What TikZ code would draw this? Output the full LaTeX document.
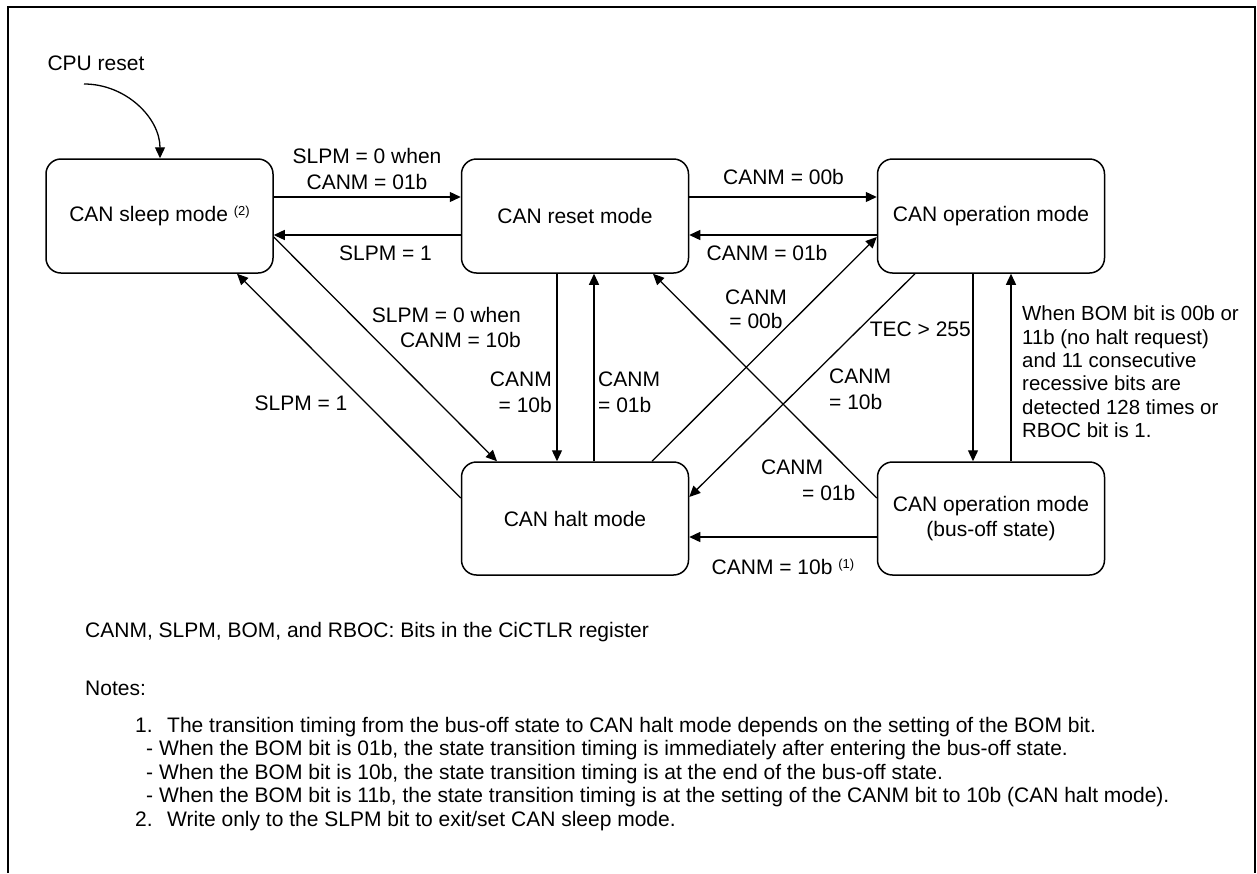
\documentclass[tikz,border=0pt]{standalone}
\usepackage{fontspec}
\setmainfont{Liberation Sans}
\usetikzlibrary{arrows.meta}
\begin{document}
\begin{tikzpicture}[x=1pt,y=-1pt,
  state/.style={draw, line width=1.5pt, rounded corners=15pt, minimum width=227pt, minimum height=114pt, inner sep=0pt, align=center, font=\fontsize{21pt}{25pt}\selectfont},
  arr/.style={line width=1.3pt, -{Triangle[length=11pt,width=10pt]}},
  lbl/.style={inner sep=0pt, font=\fontsize{21pt}{26pt}\selectfont},
  note/.style={inner sep=0pt, anchor=base west, font=\fontsize{21pt}{24pt}\selectfont}]
\useasboundingbox (0,0) rectangle (1257,873);
\draw[line width=2pt] (8,873) -- (8,7) -- (1255,7) -- (1255,873);

% states
\node[state] (sleep) at (159.5,216) {CAN sleep mode \raisebox{6pt}{\fontsize{13pt}{13pt}\selectfont(2)}};
\node[state] (reset) at (575,216) {CAN reset mode};
\node[state] (op) at (991,216) {CAN operation mode};
\node[state, minimum height=113pt] (halt) at (575,518.5) {CAN halt mode};
\node[state, minimum height=113pt] (busoff) at (991,518.5) {CAN operation mode\\(bus-off state)};

% CPU reset
\node[lbl] (cpu) at (96,63) {CPU reset};
\coordinate (cpustart) at (84,84);
\draw[arr] (cpustart) .. controls (126,84) and (160,118) .. (sleep.north -| 160,0);

% connectors
\draw[arr] (sleep.east |- 0,197) -- (reset.west |- 0,197);
\draw[arr] (reset.west |- 0,235) -- (sleep.east |- 0,235);
\draw[arr] (reset.east |- 0,197) -- (op.west |- 0,197);
\draw[arr] (op.west |- 0,235) -- (reset.east |- 0,235);
\draw[arr] (sleep.east |- 0,237) -- (halt.north -| 497,0);
\draw[arr] (halt.west |- 0,498) -- (sleep.south -| 237,0);
\draw[arr] (reset.south -| 557,0) -- (halt.north -| 557,0);
\draw[arr] (halt.north -| 594,0) -- (reset.south -| 594,0);
\draw[arr] (halt.north -| 652,0) -- (op.west |- 0,237);
\draw[arr] (op.south -| 915,0) -- (halt.east |- 0,497);
\draw[arr] (op.south -| 973,0) -- (busoff.north -| 973,0);
\draw[arr] (busoff.north -| 1011,0) -- (op.south -| 1011,0);
\draw[arr] (busoff.west |- 0,498) -- (reset.south -| 653,0);
\draw[arr] (busoff.west |- 0,537) -- (halt.east |- 0,537);

% labels
\node[lbl, align=center] (l1) at (367,168.5) {SLPM = 0 when\\CANM = 01b};
\node[lbl] (l2) at (385.5,253) {SLPM = 1};
\node[lbl] (l3) at (783.5,177) {CANM = 00b};
\node[lbl] (l4) at (767,253) {CANM = 01b};
\node[lbl, align=right, anchor=east, font=\fontsize{21pt}{25pt}\selectfont] (l5) at (521,327.5) {SLPM = 0 when\\CANM = 10b};
\node[lbl] (l6) at (301,403) {SLPM = 1};
\node[lbl, align=right, anchor=east] (l7) at (552,392.5) {CANM\\= 10b};
\node[lbl, align=left, anchor=west] (l8) at (598,392.5) {CANM\\= 01b};
\node[lbl, align=center, font=\fontsize{21pt}{24pt}\selectfont] (l9) at (756,309) {CANM\\= 00b};
\node[lbl, anchor=east] (l10) at (971,329) {TEC > 255};
\node[lbl, align=left, anchor=west] (l11) at (829,389) {CANM\\= 10b};
\node[lbl, align=left, anchor=west] (l12) at (761,480) {CANM\\\hspace*{41pt}= 01b};
\node[lbl] (l13) at (783,567) {CANM = 10b \raisebox{6pt}{\fontsize{13pt}{13pt}\selectfont(1)}};
\node[lbl, align=left, anchor=north west, font=\fontsize{20.4pt}{23.3pt}\selectfont] (l14) at (1022,306) {When BOM bit is 00b or\\11b (no halt request)\\and 11 consecutive\\recessive bits are\\detected 128 times or\\RBOC bit is 1.};

% notes
\node[note] (n0) at (85,637) {CANM, SLPM, BOM, and RBOC: Bits in the CiCTLR register};
\node[note] (n1) at (85,695) {Notes:};
\node[note] (n2a) at (135,732) {1.};
\node[note] (n2) at (167,732) {The transition timing from the bus-off state to CAN halt mode depends on the setting of the BOM bit.};
\node[note] (n3) at (146,755.5) {- When the BOM bit is 01b, the state transition timing is immediately after entering the bus-off state.};
\node[note] (n4) at (146,779) {- When the BOM bit is 10b, the state transition timing is at the end of the bus-off state.};
\node[note] (n5) at (146,802.5) {- When the BOM bit is 11b, the state transition timing is at the setting of the CANM bit to 10b (CAN halt mode).};
\node[note] (n6a) at (135,826) {2.};
\node[note] (n6) at (167,826) {Write only to the SLPM bit to exit/set CAN sleep mode.};
\end{tikzpicture}
\end{document}
